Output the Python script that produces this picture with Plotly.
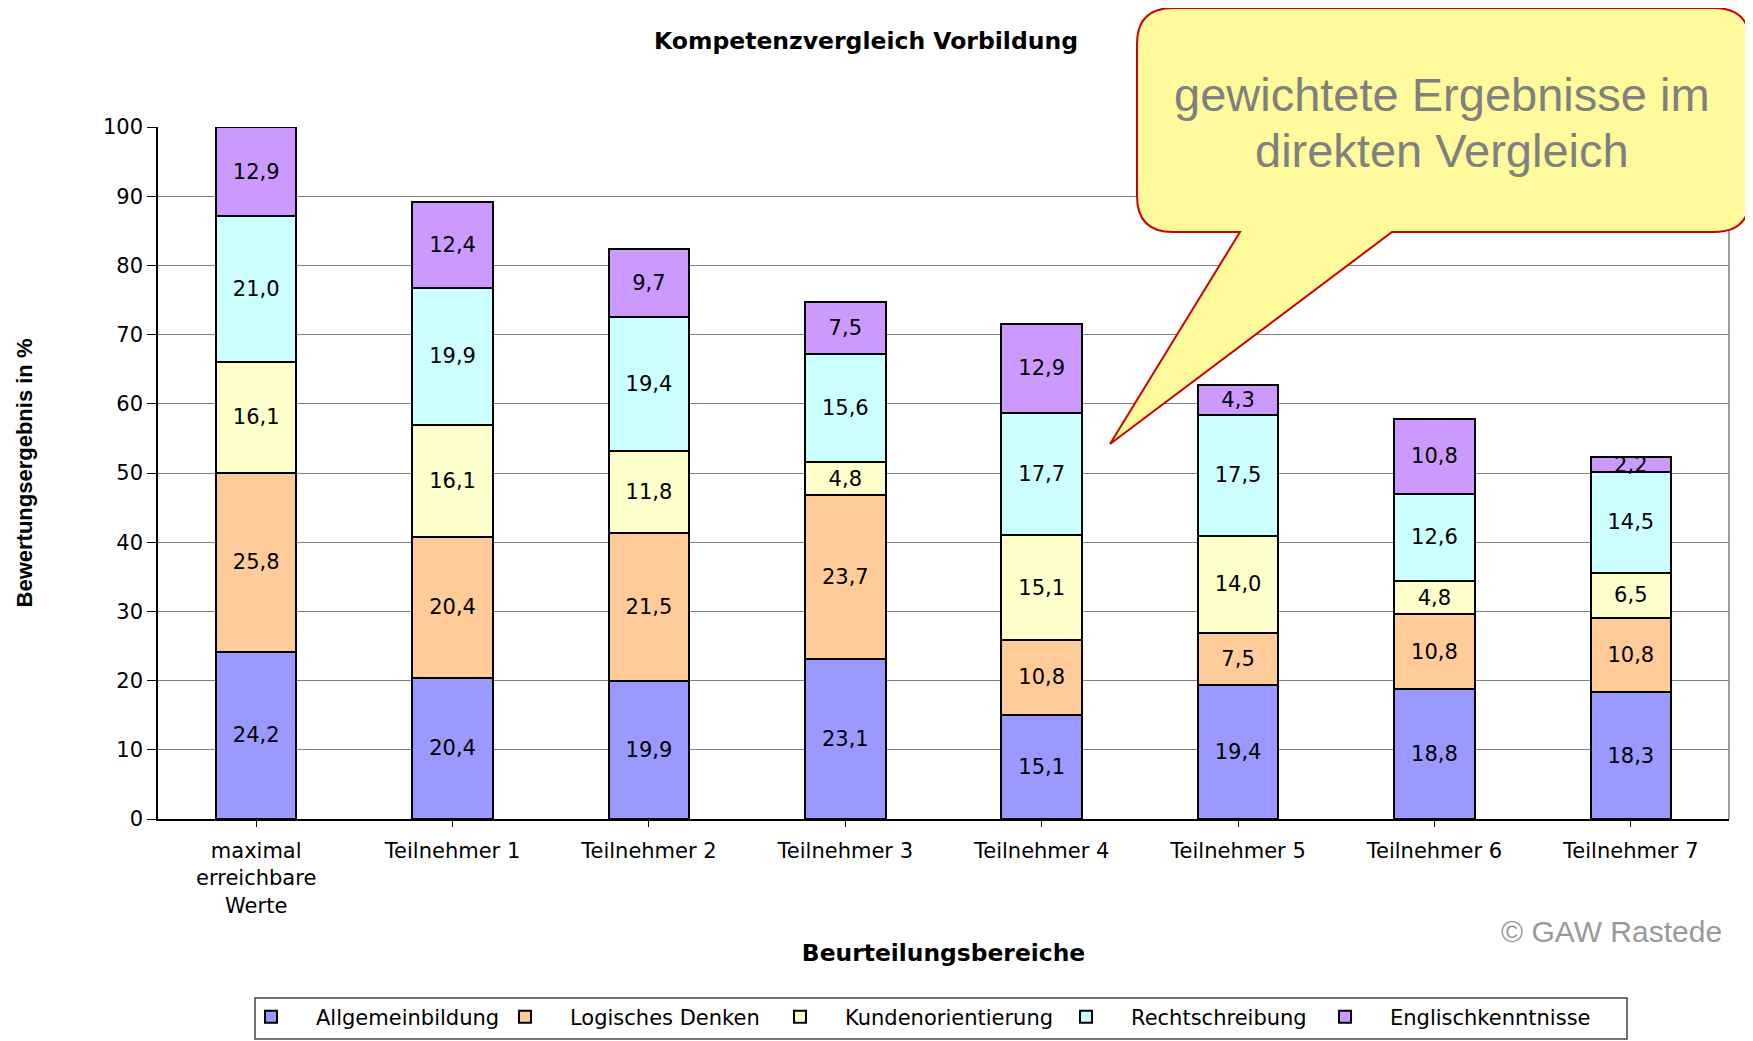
import plotly.graph_objects as go

# ---------------- data ----------------
categories = ["maximal<br>erreichbare<br>Werte", "Teilnehmer 1", "Teilnehmer 2", "Teilnehmer 3",
              "Teilnehmer 4", "Teilnehmer 5", "Teilnehmer 6", "Teilnehmer 7"]
series_names = ["Allgemeinbildung", "Logisches Denken", "Kundenorientierung",
                "Rechtschreibung", "Englischkenntnisse"]
allgemeinbildung = [24.2, 20.4, 19.9, 23.1, 15.1, 19.4, 18.8, 18.3]
logisches_denken = [25.8, 20.4, 21.5, 23.7, 10.8, 7.5, 10.8, 10.8]
kundenorientierung = [16.1, 16.1, 11.8, 4.8, 15.1, 14.0, 4.8, 6.5]
rechtschreibung = [21.0, 19.9, 19.4, 15.6, 17.7, 17.5, 12.6, 14.5]
englischkenntnisse = [12.9, 12.4, 9.7, 7.5, 12.9, 4.3, 10.8, 2.2]
series_values = [allgemeinbildung, logisches_denken, kundenorientierung,
                 rechtschreibung, englischkenntnisse]
colors = ["#9999FF", "#FFCC99", "#FFFFCC", "#CCFFFF", "#CC99FF"]

title_text = "Kompetenzvergleich Vorbildung"
x_title = "Beurteilungsbereiche"
y_title = "Bewertungsergebnis in %"
callout_lines = ["gewichtete Ergebnisse im", "direkten Vergleich"]
copyright_text = "© GAW Rastede"

# ---------------- layout geometry ----------------
# page body has an 8px margin, so the figure is offset by 8px on screen
OFF = 8
W, H = 1753 - OFF, 1041 - OFF
ML, MR, MT, MB = 150, 24, 119, 222
PW, PH = W - ML - MR, H - MT - MB


def px(xs):
    """screen x -> paper x"""
    return (xs - OFF - ML) / PW


def py(ys):
    """screen y -> paper y"""
    return (H - MB - (ys - OFF)) / PH


fig = go.Figure()
legend_ids = ["legend", "legend2", "legend3", "legend4", "legend5"]
for name, vals, col, lid in zip(series_names, series_values, colors, legend_ids):
    fig.add_trace(go.Bar(
        x=categories, y=vals, name=name, width=0.41,
        marker=dict(color=col, line=dict(color="black", width=2)),
        texttemplate="%{y:.1f}", textposition="inside", insidetextanchor="middle",
        textangle=0, textfont=dict(family="DejaVu Sans", size=21, color="black"),
        legend=lid, showlegend=True, hoverinfo="skip",
    ))

# legends: one per item, placed like the reference
legend_text_starts = [316, 570, 845, 1131, 1390]
legend_cfg = {}
for lid, ts in zip(legend_ids, legend_text_starts):
    legend_cfg[lid] = dict(
        x=px(ts - 90), y=py(1017), xanchor="left", yanchor="middle",
        orientation="h", itemwidth=80, bgcolor="rgba(0,0,0,0)", borderwidth=0,
        font=dict(family="DejaVu Sans", size=21, color="black"),
    )

# callout shape (rounded rectangle with tail), screen pixel coordinates
x0, x1, y0, y1 = 1137, 1750, 8, 232
r = 36
tb_l, tb_r = 1240, 1392
tip = (1110, 444)


def P(x, y):
    return f"{px(x):.5f},{py(y):.5f}"


path = (f"M{P(x0 + r, y0)} L{P(x1 - r, y0)} Q{P(x1, y0)} {P(x1, y0 + r)} "
        f"L{P(x1, y1 - r)} Q{P(x1, y1)} {P(x1 - r, y1)} "
        f"L{P(tb_r, y1)} L{P(*tip)} L{P(tb_l, y1)} "
        f"L{P(x0 + r, y1)} Q{P(x0, y1)} {P(x0, y1 - r)} "
        f"L{P(x0, y0 + r)} Q{P(x0, y0)} {P(x0 + r, y0)} Z")

shapes = [
    dict(type="line", xref="paper", yref="paper", x0=1, x1=1, y0=0, y1=1,
         line=dict(color="#808080", width=1.5)),
    dict(type="rect", xref="paper", yref="paper", x0=px(255), x1=px(1627), y0=py(998), y1=py(1039),
         line=dict(color="#444444", width=1.5), fillcolor="rgba(0,0,0,0)"),
    dict(type="path", xref="paper", yref="paper", path=path, fillcolor="#FFFA9B",
         line=dict(color="#CC0000", width=2), layer="above"),
]

annotations = [
    dict(text=callout_lines[0], xref="paper", yref="paper", x=px(1442), y=py(94),
         xanchor="center", yanchor="middle", showarrow=False,
         font=dict(family="Liberation Sans", size=47, color="#808080")),
    dict(text=callout_lines[1], xref="paper", yref="paper", x=px(1442), y=py(150),
         xanchor="center", yanchor="middle", showarrow=False,
         font=dict(family="Liberation Sans", size=47, color="#808080")),
    dict(text=copyright_text, xref="paper", yref="paper", x=px(1724), y=py(931),
         xanchor="right", yanchor="middle", showarrow=False,
         font=dict(family="Liberation Sans", size=30, color="#999999")),
]

fig.update_layout(
    width=W, height=H, margin=dict(l=ML, r=MR, t=MT, b=MB, autoexpand=False),
    paper_bgcolor="white", plot_bgcolor="white",
    barmode="stack", separators=",.", showlegend=True,
    uniformtext=dict(minsize=21, mode="show"),
    title=dict(text=title_text, x=(866 - OFF) / W, y=1 - (41 - OFF) / H,
               xanchor="center", yanchor="middle", xref="container", yref="container",
               font=dict(family="DejaVu Sans", size=23.5, color="black", weight="bold")),
    xaxis=dict(type="category", categoryorder="array", categoryarray=categories,
               range=[-0.5, 7.5], showline=True, linecolor="black", linewidth=1.5,
               ticks="outside", ticklen=6, tickcolor="black", showgrid=False, zeroline=False,
               tickfont=dict(family="DejaVu Sans", size=21, color="black"),
               ticklabelstandoff=6, automargin=False,
               title=dict(text=x_title, standoff=28,
                          font=dict(family="DejaVu Sans", size=23.4, color="black", weight="bold"))),
    xaxis2=dict(overlaying="x", anchor="y", range=[-0.5, 7.5],
                tickvals=[i - 0.5 for i in range(len(categories) + 1)],
                ticks="outside", ticklen=6, tickcolor="black", showticklabels=False,
                showgrid=False, showline=False, zeroline=False),
    yaxis=dict(range=[0, 100], dtick=10, showgrid=True, gridcolor="#808080", gridwidth=1,
               showline=True, linecolor="black", linewidth=1.5, zeroline=False,
               ticks="outside", ticklen=9, tickcolor="black",
               tickfont=dict(family="DejaVu Sans", size=21, color="black"),
               automargin=False,
               title=dict(text=y_title, standoff=64,
                          font=dict(family="Liberation Sans", size=22, color="black", weight="bold"))),
    shapes=shapes, annotations=annotations,
    **legend_cfg,
)

fig.write_html("out.html")
